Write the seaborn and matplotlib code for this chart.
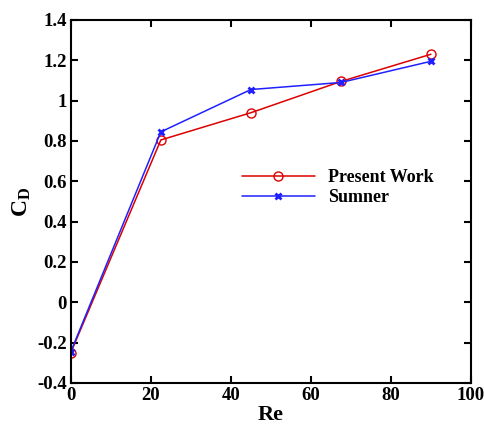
import matplotlib
matplotlib.use("Agg")
import matplotlib.pyplot as plt
import seaborn as sns

re_vals = [0, 22.5, 45, 67.5, 90]
cd_present = [-0.25, 0.805, 0.94, 1.095, 1.23]
cd_sumner = [-0.245, 0.845, 1.055, 1.09, 1.195]

x_ticks = [0, 20, 40, 60, 80, 100]
y_ticks = [-0.4, -0.2, 0, 0.2, 0.4, 0.6, 0.8, 1, 1.2, 1.4]
y_tick_labels = ["-0.4", "-0.2", "0", "0.2", "0.4", "0.6", "0.8", "1", "1.2", "1.4"]

sns.set_style("ticks")
plt.rcParams["font.family"] = ["Liberation Serif", "DejaVu Serif"]
plt.rcParams["font.weight"] = "bold"
plt.rcParams["mathtext.fontset"] = "custom"
plt.rcParams["mathtext.rm"] = "Liberation Serif:bold"
plt.rcParams["mathtext.bf"] = "Liberation Serif:bold"
plt.rcParams["mathtext.it"] = "Liberation Serif:bold"
plt.rcParams["text.color"] = "black"
plt.rcParams["axes.labelcolor"] = "black"
plt.rcParams["xtick.color"] = "black"
plt.rcParams["ytick.color"] = "black"
plt.rcParams["axes.edgecolor"] = "black"

fig = plt.figure(figsize=(4.85, 4.25), dpi=100)
ax = fig.add_axes([0.146, 0.099, 0.825, 0.854])

sns.lineplot(x=re_vals, y=cd_present, ax=ax, color="#dd0000", lw=1.1,
             marker="o", markersize=6.5, markerfacecolor="none",
             markeredgecolor="#dd0000", markeredgewidth=1.0, label="Present Work")
sns.lineplot(x=re_vals, y=cd_sumner, ax=ax, color="#2020ff", lw=1.1,
             marker="x", markersize=5, markeredgewidth=2.0,
             markeredgecolor="#2020ff", label="Sumner")

ax.set_xlim(0, 100)
ax.set_ylim(-0.4, 1.4)
ax.set_xticks(x_ticks)
ax.set_yticks(y_ticks)
ax.set_yticklabels(y_tick_labels)
ax.tick_params(direction="in", top=True, right=True, length=5, width=1.5,
               labelsize=13.5, pad=3)
for lab in ax.get_xticklabels() + ax.get_yticklabels():
    lab.set_fontweight("bold")
for sp in ax.spines.values():
    sp.set_linewidth(1.5)

ax.set_xlabel("Re", fontsize=16, fontweight="bold", labelpad=1)
ax.set_ylabel(r"$\mathrm{C_D}$", fontsize=17, labelpad=3)

ax.legend(loc="upper left", bbox_to_anchor=(0.388, 0.633), frameon=False,
          handlelength=4.0, labelspacing=0.15, handletextpad=0.75,
          prop={"weight": "bold", "size": 13})

fig.savefig("out.png", dpi=100)
